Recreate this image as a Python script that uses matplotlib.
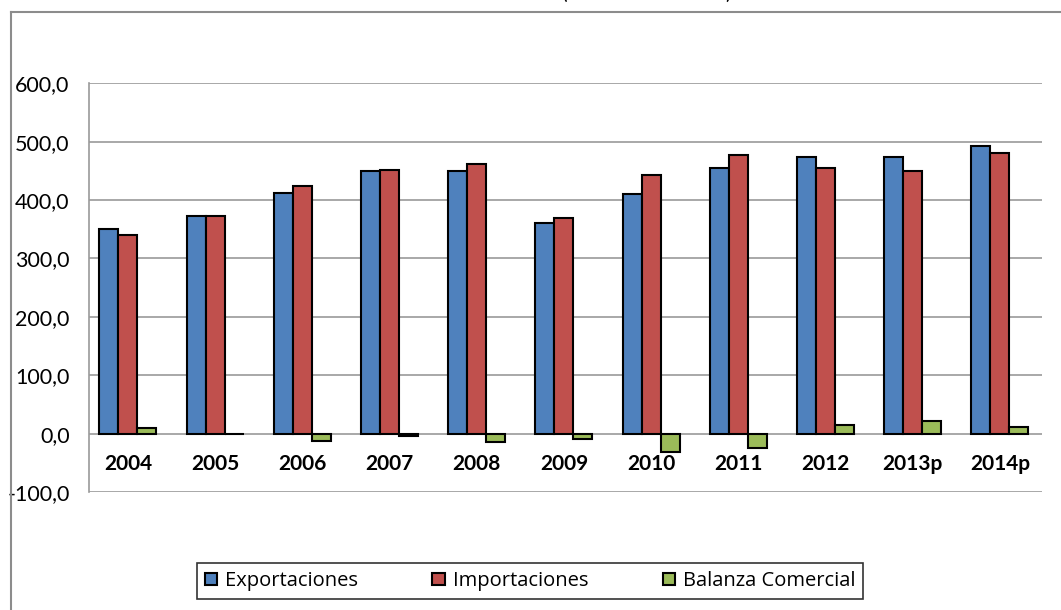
import numpy as np
import matplotlib
matplotlib.use("Agg")
import matplotlib.pyplot as plt
from matplotlib.lines import Line2D
from matplotlib.ticker import FuncFormatter

plt.rcParams['font.family'] = ['Lato', 'DejaVu Sans']

years = ["2004", "2005", "2006", "2007", "2008", "2009", "2010", "2011", "2012", "2013p", "2014p"]
exportaciones = [351, 372, 412, 449, 449, 360, 411, 455, 474, 474, 492]
importaciones = [341, 372, 424, 452, 461, 369, 443, 477, 455, 449, 480]
balanza = [9, -1, -13, -4, -15, -10, -32, -25, 15, 21, 12]
series_names = ["Exportaciones", "Importaciones", "Balanza Comercial"]
colors = ["#4F81BD", "#C0504D", "#9BBB59"]

W, H = 1061, 610
fig = plt.figure(figsize=(W / 100, H / 100), dpi=100)

# plot area, measured in pixels of the reference
left, right, top, bottom = 89, 1042, 83.3, 492
ax = fig.add_axes([left / W, 1 - bottom / H, (right - left) / W, (bottom - top) / H])

x = np.arange(len(years))
w = 0.218
for k, vals in enumerate([exportaciones, importaciones, balanza]):
    ax.bar(x + (k - 1) * w, vals, width=w, color=colors[k], edgecolor="black",
           linewidth=1.5, label=series_names[k], zorder=3)

ax.set_xlim(-0.447, 10.483)
ax.set_ylim(-100, 600)
ax.set_yticks(np.arange(-100, 601, 100))
ax.yaxis.set_major_formatter(FuncFormatter(lambda v, p: f"{v:.1f}".replace(".", ",")))
ax.tick_params(axis="y", length=0, pad=14, labelsize=15.5)
ax.set_xticks([])
ax.grid(axis="y", color="#9a9a9a", linewidth=1.2, zorder=0)
for s in ["top", "right", "bottom"]:
    ax.spines[s].set_visible(False)
ax.spines["left"].set_color("#9a9a9a")
ax.spines["left"].set_linewidth(1.2)

# category labels sit just under the zero line
for i, yr in enumerate(years):
    ax.text(i, -52.6, yr, ha="center", va="center", fontsize=15, fontweight="bold")

leg = ax.legend(loc="center", bbox_to_anchor=(530 / W, 1 - 581 / H), bbox_transform=fig.transFigure,
                ncol=3, frameon=True, fancybox=False, handlelength=0.6,
                handleheight=0.6, handletextpad=0.4, columnspacing=3.7, borderpad=0.4,
                borderaxespad=0, prop={"family": ["Open Sans", "DejaVu Sans"], "size": 14.5})
leg.get_frame().set_edgecolor("black")
leg.get_frame().set_linewidth(1.2)

# outer chart border (partly cut off in the reference)
border = "#8c8c8c"
fig.add_artist(Line2D([11 / W, 11 / W], [0, 1 - 12 / H], color=border, lw=1.5))
fig.add_artist(Line2D([11 / W, 1], [1 - 12 / H, 1 - 12 / H], color=border, lw=1.5))

# title mostly clipped by the top edge, as in the reference
fig.text(647 / W, 1 + 1.0 / H, "(Miles de millones)", ha="center", va="baseline", fontsize=15)

fig.savefig("out.png", dpi=100)
